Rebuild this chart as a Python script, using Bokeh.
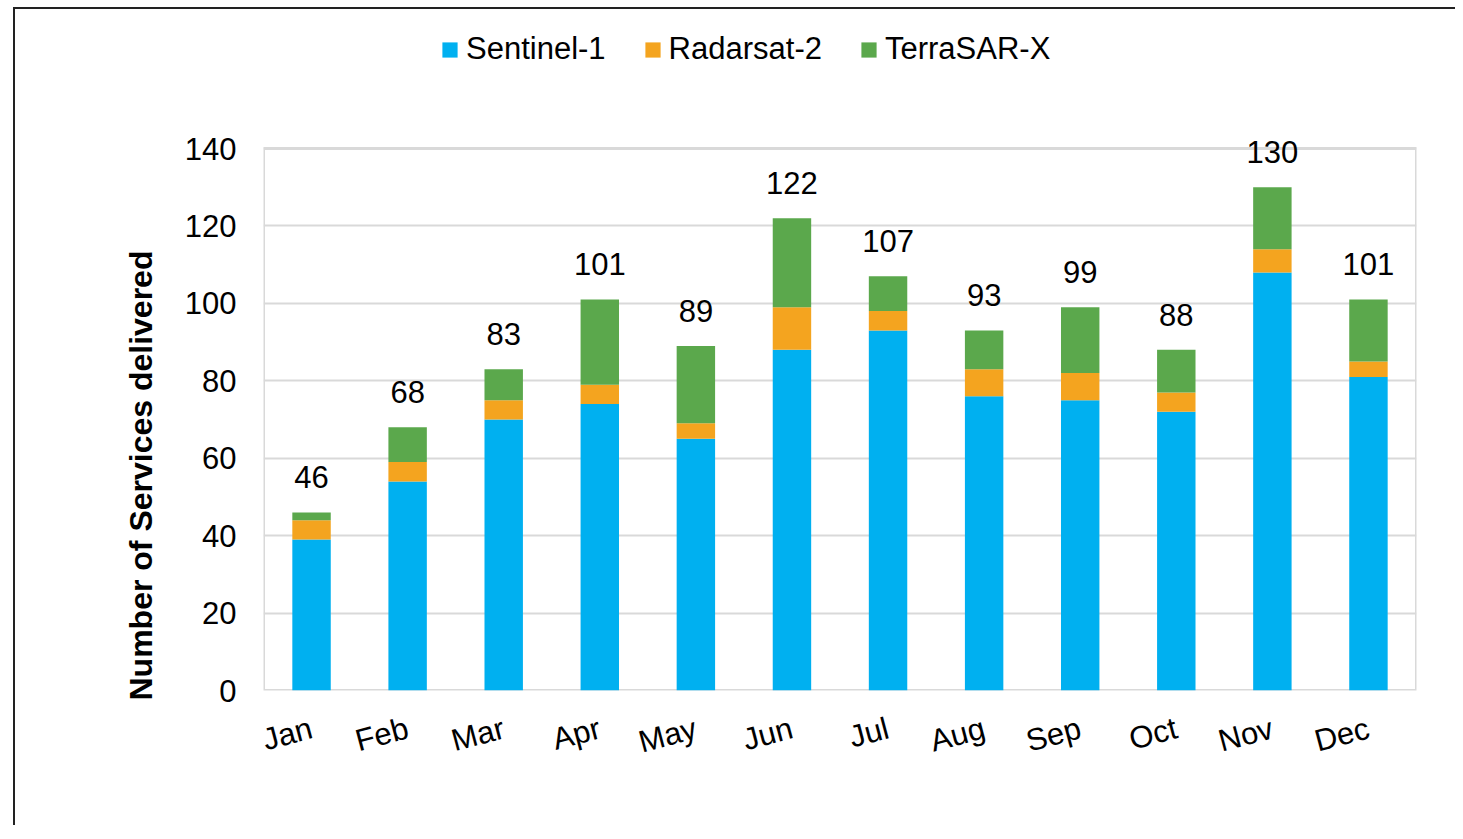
import math
from bokeh.plotting import figure
from bokeh.models import ColumnDataSource, FactorRange, Label, Title, Range1d, BoxAnnotation
from bokeh.embed import file_html
from bokeh.resources import INLINE

months = ["Jan", "Feb", "Mar", "Apr", "May", "Jun", "Jul", "Aug", "Sep", "Oct", "Nov", "Dec"]
sentinel1 = [39, 54, 70, 74, 65, 88, 93, 76, 75, 72, 108, 81]
radarsat2 = [5, 5, 5, 5, 4, 11, 5, 7, 7, 5, 6, 4]
terrasarx = [2, 9, 8, 22, 20, 23, 9, 10, 17, 11, 16, 16]
series = ["Sentinel-1", "Radarsat-2", "TerraSAR-X"]
colors = ["#00B0F0", "#F4A41F", "#5BA84C"]
y_ticks = [0, 20, 40, 60, 80, 100, 120, 140]

totals = [a + b + c for a, b, c in zip(sentinel1, radarsat2, terrasarx)]

source = ColumnDataSource(dict(
    month=months,
    s1=sentinel1, r2=radarsat2, tx=terrasarx,
))

FONT = "Liberation Sans"
FS = "31px"

# layout: the axis box (0..140) is 542 px tall; the frame is extended upward
# so that the legend and top labels live inside it without clipping
AXIS_PX = 542
FRAME_PX = 670
y_top = y_ticks[-1] * FRAME_PX / AXIS_PX

x_range = FactorRange(*months)
p = figure(
    x_range=x_range, y_range=Range1d(0, y_top),
    frame_width=1153, frame_height=FRAME_PX,
    min_border_left=248, min_border_right=39, min_border_top=11, min_border_bottom=135,
    output_backend="svg", toolbar_location=None, title=None,
)
p.margin = (7, 0, 0, 13)
p.styles = {"border-top": "2px solid #222", "border-left": "2px solid #222"}

rs = p.vbar_stack(["s1", "r2", "tx"], x="month", width=0.4, color=colors, line_color=None,
                  source=source, legend_label=series)

# plot-area border around the 0..140 box
p.outline_line_color = None
p.add_layout(BoxAnnotation(left=0, right=len(months), bottom=0, top=y_ticks[-1],
                           fill_alpha=0, line_color="#d9d9d9", line_alpha=1.0,
                           line_width=3, level="underlay"))

# total labels; factor i sits at synthetic coordinate i + 0.5 on the FactorRange
for i, t in enumerate(totals):
    p.add_layout(Label(x=i + 0.5, y=t, text=str(t), text_align="center", text_baseline="alphabetic",
                       y_offset=35, text_font=FONT, text_font_size=FS,
                       text_color="#000000", level="overlay"))

# axes
p.yaxis.ticker = y_ticks
for ax in (p.xaxis[0], p.yaxis[0]):
    ax.axis_line_color = None
    ax.major_tick_line_color = None
    ax.minor_tick_line_color = None
    ax.major_tick_out = 0
    ax.major_tick_in = 0
    ax.major_label_text_font = FONT
    ax.major_label_text_font_size = FS
    ax.major_label_text_color = "#000000"
p.yaxis.major_label_standoff = 27
p.xaxis.major_label_standoff = 37
p.xaxis.major_label_orientation = 0.26

p.xgrid.grid_line_color = None
p.ygrid.grid_line_color = "#d9d9d9"
p.ygrid.grid_line_width = 2

ytitle = Title(text="Number of Services delivered", align="left", offset=-10,
               text_font=FONT, text_font_size="32px", text_font_style="bold",
               text_color="#000000", standoff=46)
p.add_layout(ytitle, "left")

leg = p.legend[0]
leg.orientation = "horizontal"
leg.location = (177, 623)
leg.label_text_font = FONT
leg.label_text_font_size = FS
leg.label_text_color = "#000000"
leg.glyph_width = 19
leg.glyph_height = 19
leg.label_standoff = 7
leg.spacing = 37
leg.padding = 0
leg.margin = 0
leg.border_line_color = None
leg.background_fill_alpha = 0

open("out.html", "w").write(file_html(p, INLINE))
